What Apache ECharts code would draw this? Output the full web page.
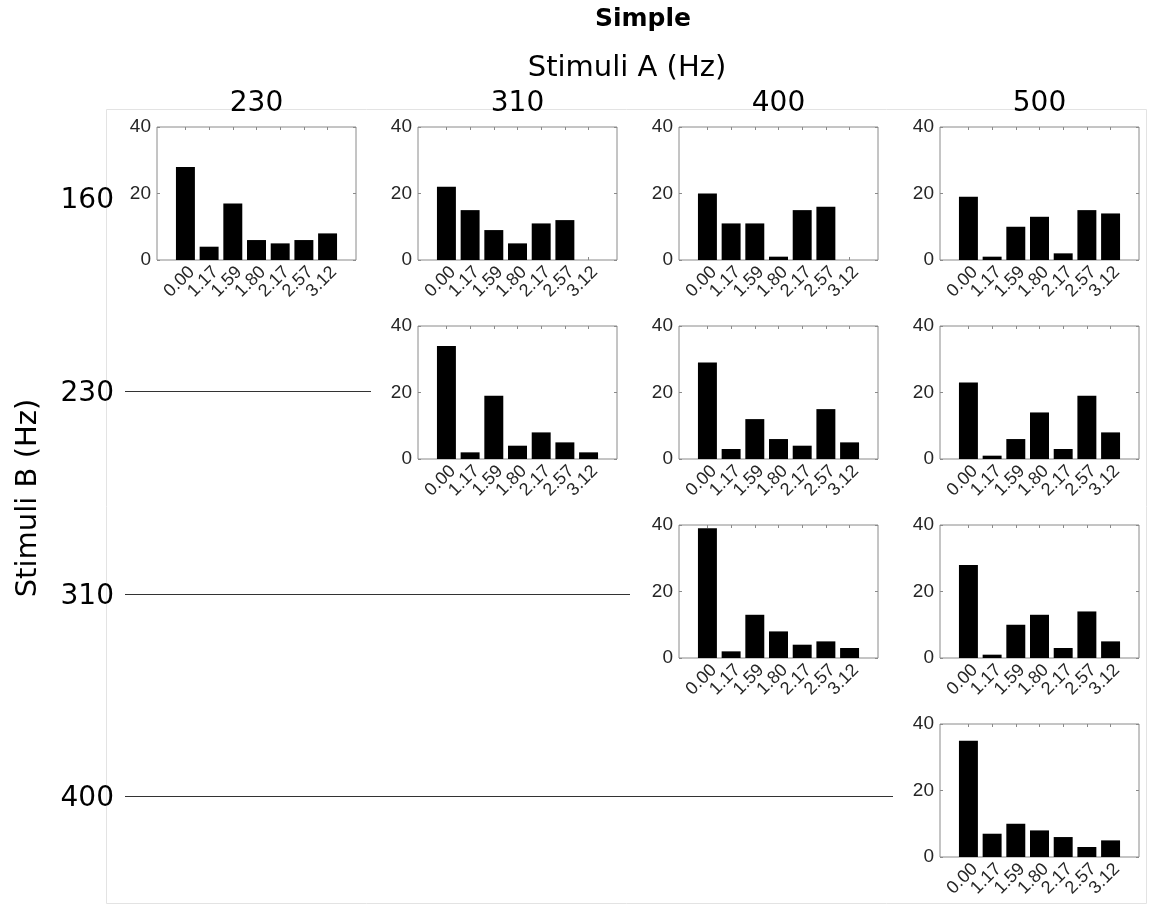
<!DOCTYPE html>
<html>
<head>
<meta charset="utf-8">
<script src="https://cdn.jsdelivr.net/npm/echarts@6/dist/echarts.min.js"></script>
<style>
  html, body { margin: 0; padding: 0; background: #fff; }
  #chart { width: 1152px; height: 904px; }
</style>
</head>
<body>
<div id="chart"></div>
<script>
// Frequency difference categories on each panel's x axis
const deltaLabels = ['0.00', '1.17', '1.59', '1.80', '2.17', '2.57', '3.12'];
// Column (stimulus A) and row (stimulus B) frequencies
const stimA = ['230', '310', '400', '500'];
const stimB = ['160', '230', '310', '400'];
const yTicks = [0, 20, 40];

// Counts per panel, named by A_B
const a230_b160 = [28, 4, 17, 6, 5, 6, 8];
const a310_b160 = [22, 15, 9, 5, 11, 12, 0];
const a400_b160 = [20, 11, 11, 1, 15, 16, 0];
const a500_b160 = [19, 1, 10, 13, 2, 15, 14];
const a310_b230 = [34, 2, 19, 4, 8, 5, 2];
const a400_b230 = [29, 3, 12, 6, 4, 15, 5];
const a500_b230 = [23, 1, 6, 14, 3, 19, 8];
const a400_b310 = [39, 2, 13, 8, 4, 5, 3];
const a500_b310 = [28, 1, 10, 13, 3, 14, 5];
const a500_b400 = [35, 7, 10, 8, 6, 3, 5];

// Panel list: column index, row index, values
const panels = [
  { col: 0, row: 0, values: a230_b160 },
  { col: 1, row: 0, values: a310_b160 },
  { col: 2, row: 0, values: a400_b160 },
  { col: 3, row: 0, values: a500_b160 },
  { col: 1, row: 1, values: a310_b230 },
  { col: 2, row: 1, values: a400_b230 },
  { col: 3, row: 1, values: a500_b230 },
  { col: 2, row: 2, values: a400_b310 },
  { col: 3, row: 2, values: a500_b310 },
  { col: 3, row: 3, values: a500_b400 }
];

// Layout of the panel grid
const colLeft = [157, 418, 679, 940];
const rowTop = [127, 326, 525, 724];
const panelW = 199;
const panelH = 133;
const rowLabelY = [198, 391, 594, 796];
// Box spans 8.4 bar slots; the 7 bars sit in the middle 7 slots
const slot = panelW / 8.4;
const innerOffset = 0.7 * slot;
const innerW = 7 * slot;

const axisColor = '#262626';
const boxColor = '#8a8a8a';

const grids = [], xAxes = [], yAxes = [], series = [];
panels.forEach((p, k) => {
  const left = colLeft[p.col], top = rowTop[p.row];
  // Outer box with the count axis
  grids.push({
    left: left, top: top, width: panelW, height: panelH,
    show: true, borderColor: boxColor, borderWidth: 1, backgroundColor: '#fff'
  });
  // Inner band holding the bars and the category labels
  grids.push({
    left: left + innerOffset, top: top, width: innerW, height: panelH, show: false
  });
  const og = 2 * k, ig = 2 * k + 1;

  xAxes.push({ gridIndex: og, type: 'value', show: false, min: 0, max: 1 });
  const catBase = {
    gridIndex: ig, type: 'category', data: deltaLabels, boundaryGap: true,
    axisLine: { show: false }, splitLine: { show: false },
    axisTick: { show: true, inside: true, length: 3, alignWithLabel: true, interval: 0, lineStyle: { color: boxColor } }
  };
  xAxes.push(Object.assign({}, catBase, {
    position: 'bottom',
    axisLabel: {
      show: true, interval: 0, rotate: 45, margin: 3, hideOverlap: false,
      verticalAlign: 'top',
      fontFamily: 'Liberation Sans', fontSize: 18, color: axisColor
    }
  }));
  xAxes.push(Object.assign({}, catBase, { position: 'top', axisLabel: { show: false } }));

  const yBase = {
    gridIndex: og, type: 'value', min: 0, max: 40, interval: 20,
    splitLine: { show: false }, axisLine: { show: false }
  };
  yAxes.push(Object.assign({}, yBase, {
    position: 'left',
    axisTick: { show: true, inside: true, length: 3, lineStyle: { color: boxColor } },
    axisLabel: { show: true, margin: 6, fontFamily: 'Liberation Sans', fontSize: 19, color: axisColor,
      formatter: v => (yTicks.indexOf(v) >= 0 ? String(v) : '') }
  }));
  yAxes.push(Object.assign({}, yBase, {
    position: 'right',
    axisTick: { show: true, inside: true, length: 3, lineStyle: { color: boxColor } },
    axisLabel: { show: false }
  }));
  yAxes.push({ gridIndex: ig, type: 'value', min: 0, max: 40, show: false });

  series.push({
    type: 'bar',
    xAxisIndex: 3 * k + 1, yAxisIndex: 3 * k + 2,
    barWidth: '80%',
    itemStyle: { color: '#000' },
    data: p.values,
    silent: true,
    z: 3
  });
});

// Header texts, row labels and guide lines
const graphics = [];
graphics.push({
  type: 'rect', shape: { x: 106.5, y: 109.5, width: 1040, height: 794 },
  style: { fill: null, stroke: '#e3e3e3', lineWidth: 1 }, z: -10
});
graphics.push({
  type: 'text', x: 643, y: 19,
  style: { text: 'Simple', font: 'bold 25px "DejaVu Sans"', fill: '#000', align: 'center', verticalAlign: 'middle' }
});
graphics.push({
  type: 'text', x: 627, y: 68,
  style: { text: 'Stimuli A (Hz)', font: '29px "DejaVu Sans"', fill: '#000', align: 'center', verticalAlign: 'middle' }
});
stimA.forEach((t, c) => {
  graphics.push({
    type: 'text', x: colLeft[c] + panelW / 2, y: 104,
    style: { text: t, font: '28px "DejaVu Sans"', fill: '#000', align: 'center', verticalAlign: 'middle' }
  });
});
stimB.forEach((t, r) => {
  graphics.push({
    type: 'text', x: 114, y: rowLabelY[r] + 3,
    style: { text: t, font: '28px "DejaVu Sans"', fill: '#000', align: 'right', verticalAlign: 'middle' }
  });
});
graphics.push({
  type: 'text', x: 28, y: 498, rotation: Math.PI / 2,
  style: { text: 'Stimuli B (Hz)', font: '29px "DejaVu Sans"', fill: '#000', align: 'center', verticalAlign: 'middle' }
});
// Guide lines from row labels to the first panel in each lower row
const lineEnds = [null, 371, 630, 893];
stimB.forEach((t, r) => {
  if (lineEnds[r] === null) return;
  graphics.push({
    type: 'line', shape: { x1: 125, y1: rowLabelY[r] + 0.5, x2: lineEnds[r], y2: rowLabelY[r] + 0.5 },
    style: { stroke: '#333', lineWidth: 1 }
  });
});

const chart = echarts.init(document.getElementById('chart'), null, { renderer: 'canvas' });
chart.setOption({
  animation: false,
  backgroundColor: '#fff',
  grid: grids,
  xAxis: xAxes,
  yAxis: yAxes,
  series: series,
  graphic: graphics
});
</script>
</body>
</html>
